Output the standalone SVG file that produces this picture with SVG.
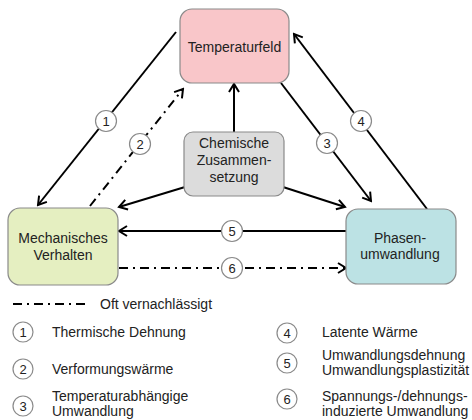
<svg xmlns="http://www.w3.org/2000/svg" width="472" height="420" viewBox="0 0 472 420">
  <style>
    text { font-family: "Liberation Sans", Arial, sans-serif; font-size: 14px; fill: #222; }
    .node rect { stroke: #8a8a8a; stroke-width: 1.2; }
    .mid { text-anchor: middle; }
    .edge { stroke: #000; stroke-width: 2; fill: none; }
    .dd { stroke-dasharray: 9 5 2 5; }
    .tag circle { fill: #fff; stroke: #8a8a8a; stroke-width: 1.2; }
    .tag text { text-anchor: middle; font-size: 13px; }
  </style>
  <defs>
    <marker id="head" viewBox="-10 -7 12 14" markerWidth="12" markerHeight="14" refX="0" refY="0" orient="auto" markerUnits="userSpaceOnUse">
      <path d="M-8,-5 L0,0 L-8,5" fill="none" stroke="#000" stroke-width="2"/>
    </marker>
  </defs>

  <rect width="472" height="420" fill="#fff"/>

  <!-- connectors -->
  <g id="connectors">
    <line class="edge" x1="176" y1="32" x2="38" y2="205" marker-end="url(#head)"/>
    <line class="edge dd" x1="90" y1="206" x2="183" y2="89" marker-end="url(#head)"/>
    <line class="edge" x1="281" y1="83" x2="371" y2="201" marker-end="url(#head)"/>
    <line class="edge" x1="427" y1="209" x2="294" y2="34" marker-end="url(#head)"/>
    <line class="edge" x1="234" y1="132" x2="234" y2="84" marker-end="url(#head)"/>
    <line class="edge" x1="185" y1="187" x2="119" y2="207" marker-end="url(#head)"/>
    <line class="edge" x1="283" y1="187" x2="345" y2="207" marker-end="url(#head)"/>
    <line class="edge" x1="346" y1="231" x2="119" y2="231" marker-end="url(#head)"/>
    <line class="edge dd" x1="119" y1="268" x2="346" y2="268" marker-end="url(#head)"/>

    <g class="tag"><circle cx="106" cy="121" r="10.5"/><text x="106" y="125.5">1</text></g>
    <g class="tag"><circle cx="140" cy="144" r="10.5"/><text x="140" y="148.5">2</text></g>
    <g class="tag"><circle cx="327" cy="143" r="10.5"/><text x="327" y="147.5">3</text></g>
    <g class="tag"><circle cx="361" cy="121" r="10.5"/><text x="361" y="125.5">4</text></g>
    <g class="tag"><circle cx="232" cy="231" r="10.5"/><text x="232" y="235.5">5</text></g>
    <g class="tag"><circle cx="232" cy="268" r="10.5"/><text x="232" y="272.5">6</text></g>
  </g>

  <!-- nodes -->
  <g id="temperaturfeld" class="node">
    <rect x="180" y="9" width="109" height="74" rx="12" fill="#f9c6c9"/>
    <text class="mid" x="234.5" y="52">Temperaturfeld</text>
  </g>
  <g id="mechanisches-verhalten" class="node">
    <rect x="8" y="208" width="110" height="77" rx="12" fill="#e5efc1"/>
    <text class="mid" x="63" y="243">Mechanisches</text>
    <text class="mid" x="63" y="260">Verhalten</text>
  </g>
  <g id="phasenumwandlung" class="node">
    <rect x="346" y="209" width="110" height="75" rx="12" fill="#bce2e4"/>
    <text class="mid" x="400" y="243">Phasen-</text>
    <text class="mid" x="400" y="259">umwandlung</text>
  </g>
  <g id="chemische-zusammensetzung" class="node">
    <rect x="184" y="132" width="100" height="64" rx="9" fill="#dcdcdc"/>
    <text class="mid" x="234" y="148">Chemische</text>
    <text class="mid" x="234" y="165">Zusammen-</text>
    <text class="mid" x="234" y="182">setzung</text>
  </g>

  <!-- legend -->
  <g id="legend">
    <line class="edge dd" x1="13" y1="304" x2="88" y2="304"/>
    <text x="100" y="309">Oft vernachlässigt</text>

    <g class="tag"><circle cx="23" cy="332" r="10"/><text x="23" y="336.5">1</text></g>
    <text x="52" y="337">Thermische Dehnung</text>
    <g class="tag"><circle cx="23" cy="369" r="10"/><text x="23" y="373.5">2</text></g>
    <text x="52" y="374">Verformungswärme</text>
    <g class="tag"><circle cx="23" cy="406" r="10"/><text x="23" y="410.5">3</text></g>
    <text x="52" y="400.5">Temperaturabhängige</text>
    <text x="52" y="416">Umwandlung</text>

    <g class="tag"><circle cx="287" cy="333" r="10"/><text x="287" y="337.5">4</text></g>
    <text x="322" y="337">Latente Wärme</text>
    <g class="tag"><circle cx="287" cy="363" r="10"/><text x="287" y="367.5">5</text></g>
    <text x="322" y="359.5">Umwandlungsdehnung</text>
    <text x="322" y="375">Umwandlungsplastizität</text>
    <g class="tag"><circle cx="287" cy="399" r="10"/><text x="287" y="403.5">6</text></g>
    <text x="322" y="400.5">Spannungs-/dehnungs-</text>
    <text x="322" y="416">induzierte Umwandlung</text>
  </g>
</svg>
